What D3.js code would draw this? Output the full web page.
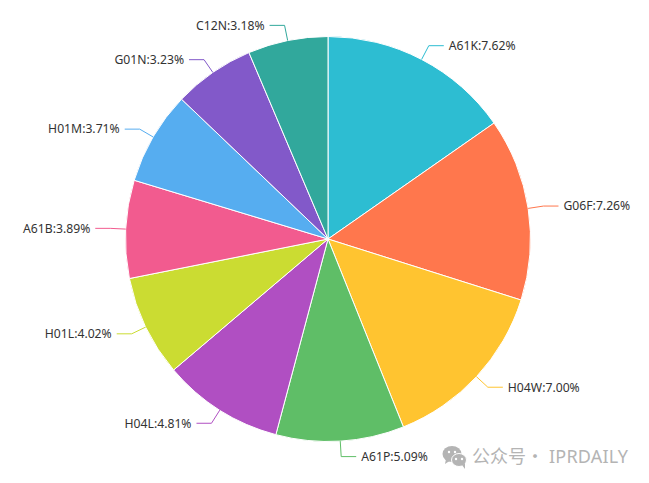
<!DOCTYPE html>
<html>
<head>
<meta charset="utf-8">
<script src="https://cdn.jsdelivr.net/npm/d3@7"></script>
<style>
html, body { margin: 0; padding: 0; background: #fff; }
svg { display: block; }
</style>
</head>
<body>
<svg id="canvas" width="649" height="483"></svg>
<script>
const categories = ["A61K", "G06F", "H04W", "A61P", "H04L", "H01L", "A61B", "H01M", "G01N", "C12N"];
const shares = [7.62, 7.26, 7.00, 5.09, 4.81, 4.02, 3.89, 3.71, 3.23, 3.18];
const palette = ["#2dbdd2", "#ff774d", "#ffc430", "#5fbe67", "#b04fc2", "#cbdc32", "#f25b8f", "#56adf0", "#8259c9", "#31a89c"];

const radius = 202.5;
const elbow_gap = 15.5;
const line_run = 15;
const label_font = "'Noto Sans', sans-serif";

const svg = d3.select("svg#canvas");
const g = svg.append("g").attr("transform", "translate(328, 239)");

const slices = d3.pie().sort(null).value((_, i) => shares[i])(categories);
const arc = d3.arc().innerRadius(0).outerRadius(radius);
const ring = r => d3.arc().innerRadius(r).outerRadius(r);

g.selectAll("path.slice")
    .data(slices)
    .join("path")
    .attr("class", "slice")
    .attr("d", arc)
    .attr("fill", (_, i) => palette[i])
    .attr("stroke", "#fff")
    .attr("stroke-width", 1);

// leader line: out of the slice, then flat towards the label
const leader = d => {
    const a = ring(radius).centroid(d);
    const b = ring(radius + elbow_gap).centroid(d);
    const side = b[0] >= 0 ? 1 : -1;
    return [a, b, [b[0] + side * line_run, b[1]]];
};

g.selectAll("path.leader")
    .data(slices)
    .join("path")
    .attr("class", "leader")
    .attr("d", d => d3.line()(leader(d)))
    .attr("fill", "none")
    .attr("stroke", (_, i) => palette[i])
    .attr("stroke-width", 1);

g.selectAll("text.label")
    .data(slices)
    .join("text")
    .attr("class", "label")
    .attr("x", d => leader(d)[2][0] + (leader(d)[2][0] >= 0 ? 5 : -5))
    .attr("y", d => leader(d)[2][1])
    .attr("dy", "0.35em")
    .attr("text-anchor", d => leader(d)[2][0] >= 0 ? "start" : "end")
    .attr("font-family", label_font)
    .attr("font-size", 12.2)
    .attr("fill", "#333")
    .text((d, i) => categories[i] + ":" + shares[i].toFixed(2) + "%");

// watermark
const mark = svg.append("g").attr("fill", "#b4b4b4");
mark.append("ellipse").attr("cx", 452).attr("cy", 454).attr("rx", 9.5).attr("ry", 8);
mark.append("path").attr("d", "M446 459 L445 464 L451 460 Z");
mark.append("ellipse").attr("cx", 459).attr("cy", 460).attr("rx", 7.5).attr("ry", 6.5)
    .attr("stroke", "#fff").attr("stroke-width", 1);
mark.append("path").attr("d", "M462 465 L465 469 L465 463 Z");
mark.selectAll("circle")
    .data([[449, 452], [455, 452], [456, 459], [462, 459]])
    .join("circle")
    .attr("cx", d => d[0])
    .attr("cy", d => d[1])
    .attr("r", 1.2)
    .attr("fill", "#fff");

svg.append("text")
    .attr("x", 472)
    .attr("y", 463)
    .attr("font-family", "'Noto Sans CJK SC', sans-serif")
    .attr("font-size", 18)
    .attr("fill", "#b4b4b4")
    .text("公众号");

svg.append("text")
    .attr("x", 535)
    .attr("y", 463)
    .attr("font-family", "'Noto Sans CJK SC', sans-serif")
    .attr("font-size", 18)
    .attr("text-anchor", "middle")
    .attr("fill", "#b4b4b4")
    .text("·");

svg.append("text")
    .attr("x", 549)
    .attr("y", 463)
    .attr("font-family", "'Noto Sans', sans-serif")
    .attr("font-size", 18)
    .attr("letter-spacing", 0.2)
    .attr("fill", "#b4b4b4")
    .text("IPRDAILY");
</script>
</body>
</html>
